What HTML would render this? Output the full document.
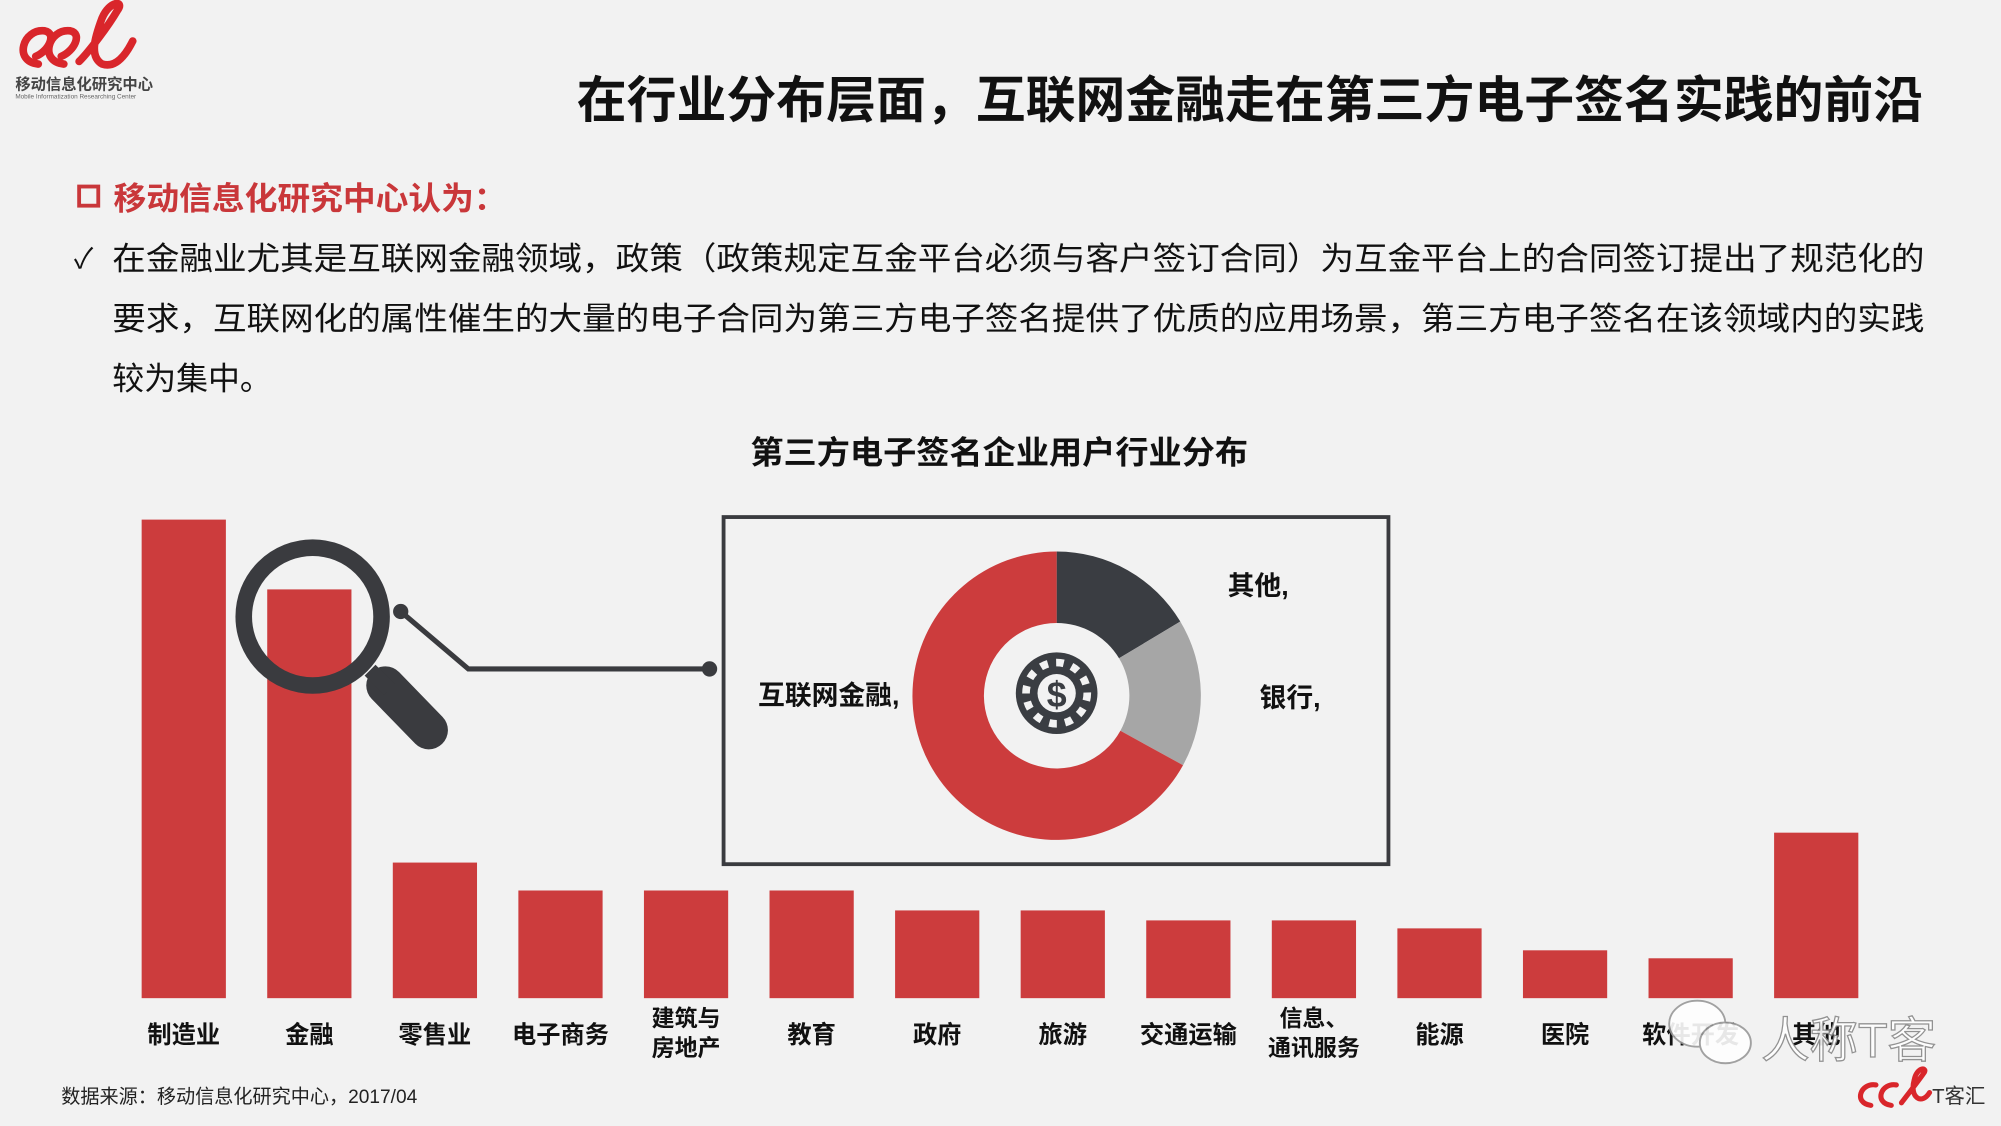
<!DOCTYPE html>
<html><head><meta charset="utf-8"><style>
html,body{margin:0;padding:0;background:#f2f2f2;}
svg{display:block;}
text{font-family:"Liberation Sans","Noto Sans CJK SC",sans-serif;}
</style></head><body>
<svg id="chart" width="2001" height="1126" viewBox="0 0 1568 882" xmlns="http://www.w3.org/2000/svg">
<rect x="0" y="0" width="1568" height="882" fill="#f2f2f2"/>
<g>
  <path d="M30 50 C10 48 18 22 35 24 C45 26 38 40 28 44 M50 50 C30 48 38 22 55 24 C65 26 58 40 48 44 M62 48 C70 40 85 20 92 8 C98 0 86 0 80 14 C74 30 70 44 80 50 C92 54 100 40 104 32" fill="none" stroke="#d9262b" stroke-width="6" stroke-linecap="round"/>
  <text x="12" y="70" font-size="12" font-weight="bold" fill="#444">移动信息化研究中心</text>
  <text x="12" y="77" font-size="5" fill="#666">Mobile Informatization Researching Center</text>
</g>
<text x="1507" y="92" text-anchor="end" font-size="39" font-weight="bold" fill="#111" textLength="1055" lengthAdjust="spacingAndGlyphs">在行业分布层面，互联网金融走在第三方电子签名实践的前沿</text>
<g>
  <rect x="62" y="146" width="15" height="15" fill="none" stroke="#c9373a" stroke-width="3"/>
  <text x="89" y="164" font-size="25" font-weight="bold" fill="#c9373a" textLength="308" lengthAdjust="spacingAndGlyphs">移动信息化研究中心认为：</text>
</g>
<g font-size="25" fill="#111">
  <text x="58" y="210" font-size="22">✓</text>
  <text x="88" y="211" textLength="1420" lengthAdjust="spacingAndGlyphs">在金融业尤其是互联网金融领域，政策（政策规定互金平台必须与客户签订合同）为互金平台上的合同签订提出了规范化的</text>
  <text x="88" y="258" textLength="1420" lengthAdjust="spacingAndGlyphs">要求，互联网化的属性催生的大量的电子合同为第三方电子签名提供了优质的应用场景，第三方电子签名在该领域内的实践</text>
  <text x="88" y="305">较为集中。</text>
</g>
<text x="783" y="363" text-anchor="middle" font-size="25" font-weight="bold" fill="#111" textLength="390" lengthAdjust="spacingAndGlyphs">第三方电子签名企业用户行业分布</text>
<g id="bars"></g>
<g id="labels"></g>
<g>
  <circle cx="245" cy="483" r="54" fill="none" stroke="#3a3b3f" stroke-width="13"/>
  <line x1="302" y1="537" x2="336" y2="572" stroke="#3a3b3f" stroke-width="30" stroke-linecap="round"/>
  <line x1="290" y1="525" x2="305" y2="540" stroke="#3a3b3f" stroke-width="12"/>
  <circle cx="314" cy="479" r="6" fill="#3a3b3f"/>
  <polyline points="314,479 367,524 556,524" fill="none" stroke="#3a3b3f" stroke-width="4"/>
  <circle cx="556" cy="524" r="6" fill="#3a3b3f"/>
</g>
<rect x="567" y="405" width="521" height="272" fill="none" stroke="#3a3b3f" stroke-width="3"/>
<g id="donut"></g>
<g>
  <circle cx="828" cy="543" r="32" fill="#3a3d42"/>
  <circle cx="828" cy="543" r="24" fill="none" stroke="#f2f2f2" stroke-width="6" stroke-dasharray="6 6.5"/>
  <circle cx="828" cy="543" r="19" fill="#3a3d42"/>
  <circle cx="828" cy="543" r="15" fill="#f2f2f2"/>
  <text x="828" y="554" text-anchor="middle" font-size="28" font-weight="bold" fill="#3a3d42">$</text>
</g>
<g font-size="21" font-weight="bold" fill="#111">
  <text x="962" y="466">其他,</text>
  <text x="987" y="554">银行,</text>
  <text x="594" y="552">互联网金融,</text>
</g>
<text x="48" y="864" font-size="15" fill="#222">数据来源：移动信息化研究中心，2017/04</text>
<g opacity="0.9">
  <ellipse cx="1330" cy="802" rx="22" ry="18" fill="#fff" stroke="#999" stroke-width="1.5"/>
  <ellipse cx="1352" cy="817" rx="20" ry="16" fill="#fff" stroke="#999" stroke-width="1.5"/>
  <text x="1380" y="828" font-size="38" fill="#fff" stroke="#888" stroke-width="1">人称T客</text>
</g>
<g>
  <path d="M1466 866 C1452 864 1458 848 1470 850 M1482 866 C1468 864 1474 848 1486 850 M1490 864 C1496 856 1504 846 1508 840 C1510 836 1502 836 1500 846 C1496 860 1506 866 1512 856" fill="none" stroke="#d9262b" stroke-width="4" stroke-linecap="round"/>
  <text x="1514" y="864" font-size="16" fill="#333">T客汇</text>
</g>
<script>
const categories = ["制造业","金融","零售业","电子商务","建筑与\n房地产","教育","政府","旅游","交通运输","信息、\n通讯服务","能源","医院","软件开发","其他"];
const values = [24.0, 20.5, 6.8, 5.4, 5.4, 5.4, 4.4, 4.4, 3.9, 3.9, 3.5, 2.4, 2.0, 8.3];
const donutLabels = ["其他","银行","互联网金融"];
const donutValues = [16.4, 16.6, 67.0];
const donutColors = ["#3a3d42","#a6a6a6","#cc3c3d"];
const NS = "http://www.w3.org/2000/svg";
const baseY = 782, topY = 407, x0 = 111, step = 98.4, bw = 66;
const vmax = Math.max(...values);
function yScale(v){ return baseY - (v / vmax) * (baseY - topY); }
function xScale(i){ return x0 + i * step; }
const bars = document.getElementById('bars');
const labels = document.getElementById('labels');
values.forEach((v,i)=>{
  const r = document.createElementNS(NS,'rect');
  r.setAttribute('x', xScale(i)); r.setAttribute('y', yScale(v));
  r.setAttribute('width', bw); r.setAttribute('height', baseY - yScale(v));
  r.setAttribute('fill', '#cc3c3d');
  
  
  bars.appendChild(r);
  const lines = categories[i].split("\n");
  lines.forEach((ln,k)=>{
    const t = document.createElementNS(NS,'text');
    t.setAttribute('x', xScale(i) + bw/2);
    t.setAttribute('y', lines.length === 1 ? 817 : 804 + k*23);
    t.setAttribute('text-anchor','middle');
    t.setAttribute('font-size', lines.length === 1 ? 19 : 18);
    t.setAttribute('font-weight','bold');
    t.setAttribute('fill','#111');
    t.textContent = ln;
    
    
    labels.appendChild(t);
  });
});
const donut = document.getElementById('donut');
const cx = 828, cy = 545, R = 113, r0 = 57;
const total = donutValues.reduce((a,b)=>a+b,0);
let acc = 0;
function pt(rad, a){ return [cx + rad*Math.sin(a), cy - rad*Math.cos(a)]; }
donutValues.forEach((v,i)=>{
  const a1 = acc/total*2*Math.PI; acc += v; const a2 = acc/total*2*Math.PI;
  const large = (a2-a1) > Math.PI ? 1 : 0;
  const p1 = pt(R,a1), p2 = pt(R,a2), p3 = pt(r0,a2), p4 = pt(r0,a1);
  const p = document.createElementNS(NS,'path');
  p.setAttribute('d', `M${p1} A${R},${R} 0 ${large} 1 ${p2} L${p3} A${r0},${r0} 0 ${large} 0 ${p4} Z`);
  p.setAttribute('fill', donutColors[i]);
  
  
  donut.appendChild(p);
});
</script>
</svg>
</body></html>
